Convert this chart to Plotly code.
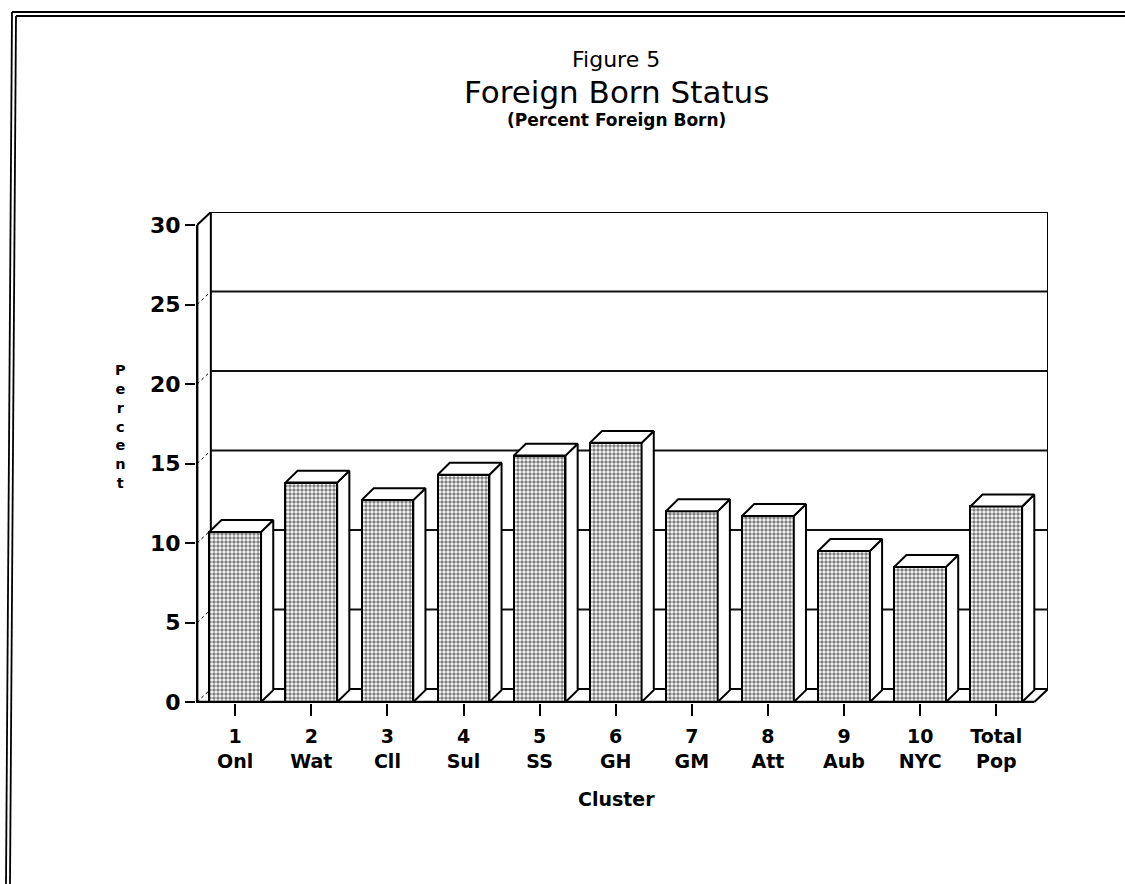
import plotly.graph_objects as go

# ---------------- data ----------------
cluster_nums = ["1", "2", "3", "4", "5", "6", "7", "8", "9", "10", "Total"]
cluster_names = ["Onl", "Wat", "Cll", "Sul", "SS", "GH", "GM", "Att", "Aub", "NYC", "Pop"]
pct_foreign_born = [10.7, 13.8, 12.7, 14.3, 15.5, 16.3, 12.0, 11.7, 9.5, 8.5, 12.3]
y_ticks = [0, 5, 10, 15, 20, 25, 30]
y_title = "Percent"

# ---------------- geometry (styling) ----------------
FONT = "DejaVu Sans"
L, R, T, B = 196, 77, 212, 181
W = 1125 - L - R
H = 884 - T - B
XMIN, XMAX = -0.515, 10.68
YMIN, YMAX = -0.06, 30.82
WDX, WDY = 0.18, 0.82      # depth of the back wall (data units)
BW = 0.68                  # bar width
BDX, BDY = 0.16, 0.75      # depth of each bar


def px(xp):
    return (xp - L) / W


def py(yp):
    return (884 - B - yp) / H


n = len(cluster_nums)
x_idx = list(range(n))
x0, x1 = -0.5, n - 0.5
ymax = y_ticks[-1]

fig = go.Figure()

# front faces of the bars
fig.add_trace(go.Bar(
    x=x_idx, y=pct_foreign_born, width=BW,
    marker=dict(color="white", line=dict(color="black", width=2),
                pattern=dict(shape=".", fgcolor="black", bgcolor="white",
                             size=4, solidity=0.6)),
    hoverinfo="skip", showlegend=False,
))

# top and side faces of the bars
tops_x, tops_y, sides_x, sides_y = [], [], [], []
for i, v in zip(x_idx, pct_foreign_born):
    xl, xr = i - BW / 2, i + BW / 2
    tops_x += [xl, xr, xr + BDX, xl + BDX, xl, None]
    tops_y += [v, v, v + BDY, v + BDY, v, None]
    sides_x += [xr, xr + BDX, xr + BDX, xr, xr, None]
    sides_y += [0, BDY, v + BDY, v, 0, None]
for xs, ys in ((sides_x, sides_y), (tops_x, tops_y)):
    fig.add_trace(go.Scatter(x=xs, y=ys, mode="lines", fill="toself",
                             fillcolor="white",
                             line=dict(color="black", width=2),
                             hoverinfo="skip", showlegend=False))

# front axes lines
fig.add_trace(go.Scatter(x=[x0, x0, x1], y=[ymax, 0, 0], mode="lines",
                         line=dict(color="black", width=2.5),
                         hoverinfo="skip", showlegend=False))

shapes = []
line_k = dict(color="black", width=2)
# back wall + floor frame
shapes += [
    dict(type="line", xref="x", yref="y", x0=x0 + WDX, y0=WDY, x1=x0 + WDX, y1=ymax + WDY, line=line_k, layer="below"),
    dict(type="line", xref="x", yref="y", x0=x0 + WDX, y0=ymax + WDY, x1=x1 + WDX, y1=ymax + WDY, line=line_k, layer="below"),
    dict(type="line", xref="x", yref="y", x0=x1 + WDX, y0=ymax + WDY, x1=x1 + WDX, y1=WDY, line=line_k, layer="below"),
    dict(type="line", xref="x", yref="y", x0=x0 + WDX, y0=WDY, x1=x1 + WDX, y1=WDY, line=line_k, layer="below"),
    dict(type="line", xref="x", yref="y", x0=x1, y0=0, x1=x1 + WDX, y1=WDY, line=line_k, layer="below"),
    dict(type="line", xref="x", yref="y", x0=x0, y0=ymax, x1=x0 + WDX, y1=ymax + WDY, line=line_k, layer="below"),
    dict(type="line", xref="x", yref="y", x0=x0, y0=0, x1=x0 + WDX, y1=WDY,
         line=dict(color="black", width=1, dash="dot"), layer="below"),
]
# gridlines on the back wall + dotted diagonals on the side wall
for v in y_ticks[1:-1]:
    shapes.append(dict(type="line", xref="x", yref="y", x0=x0 + WDX, y0=v + WDY,
                       x1=x1 + WDX, y1=v + WDY, line=dict(color="#111", width=2), layer="below"))
    shapes.append(dict(type="line", xref="x", yref="y", x0=x0, y0=v, x1=x0 + WDX, y1=v + WDY,
                       line=dict(color="black", width=1, dash="dot"), layer="below"))

# scanned page border (double line top & left)
for off in (0, 4):
    shapes.append(dict(type="line", xref="paper", yref="paper",
                       x0=px(12 + off), y0=py(12 + off), x1=px(1125), y1=py(12 + off),
                       line=dict(color="black", width=1.8)))
    shapes.append(dict(type="line", xref="paper", yref="paper",
                       x0=px(12 + off), y0=py(12 + off), x1=px(6 + off), y1=py(884),
                       line=dict(color="black", width=1.8)))

annotations = [
    dict(text="Figure 5", x=px(616), y=py(60), font=dict(size=22)),
    dict(text="Foreign Born Status", x=px(616), y=py(92), font=dict(size=31)),
    dict(text="<b>(Percent Foreign Born)</b>", x=px(616), y=py(120), font=dict(size=17)),
    dict(text="<b>Cluster</b>", x=px(616), y=py(799), font=dict(size=19)),
    dict(text="<br>".join(f"<b>{ch}</b>" for ch in y_title), x=px(120), y=py(426),
         font=dict(size=14.5)),
]
for a in annotations:
    a.update(xref="paper", yref="paper", showarrow=False, xanchor="center", yanchor="middle")
    a["font"].update(family=FONT, color="black")

fig.update_layout(
    width=1125, height=884,
    margin=dict(l=L, r=R, t=T, b=B, pad=0, autoexpand=False),
    paper_bgcolor="white", plot_bgcolor="white",
    shapes=shapes, annotations=annotations, bargap=0,
    font=dict(family=FONT, color="black"),
    xaxis=dict(range=[XMIN, XMAX], tickmode="array", tickvals=x_idx,
               ticktext=[f"<b>{a}</b><br><b>{b}</b>" for a, b in zip(cluster_nums, cluster_names)],
               ticks="outside", ticklen=12, tickwidth=2, tickcolor="black",
               ticklabelstandoff=4,
               tickfont=dict(size=19, family=FONT, color="black"),
               showgrid=False, zeroline=False, showline=False, automargin=False),
    yaxis=dict(range=[YMIN, YMAX], tickmode="array", tickvals=y_ticks,
               ticktext=[f"<b>{v}</b>" for v in y_ticks],
               ticks="outside", ticklen=10, tickwidth=2, tickcolor="black",
               tickfont=dict(size=22, family=FONT, color="black"),
               showgrid=False, zeroline=False, showline=False, automargin=False),
)

fig.write_html("out.html", config={"displayModeBar": False},
               post_script="document.body.style.margin='0';")
